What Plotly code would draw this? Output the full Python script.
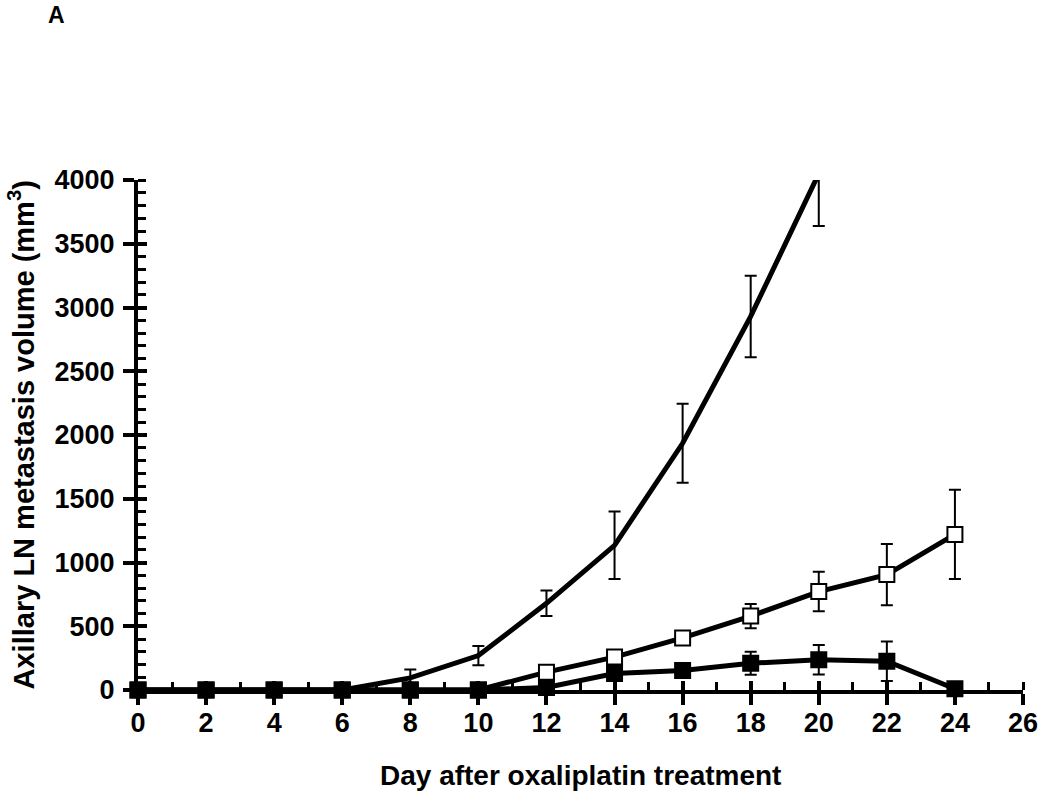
import plotly.graph_objects as go

days = [0, 2, 4, 6, 8, 10, 12, 14, 16, 18, 20, 22, 24]
days_s1 = [0, 2, 4, 6, 8, 10, 12, 14, 16, 18, 20]

s1_vals = [0, 0, 0, 0, 95, 270, 680, 1135, 1935, 2930, 4050]
s1_err = [0, 0, 0, 0, 65, 75, 100, 265, 310, 320, 410]

s2_vals = [0, 0, 0, 0, 0, 0, 140, 258, 408, 580, 772, 905, 1220]
s2_err = [0, 0, 0, 0, 0, 0, 15, 25, 30, 95, 155, 240, 350]

s3_vals = [0, 0, 0, 0, 0, 0, 20, 130, 153, 210, 237, 226, 10]
s3_err = [0, 0, 0, 0, 0, 0, 0, 30, 25, 90, 115, 155, 0]

x_ticks = list(range(0, 27, 2))
y_ticks = list(range(0, 4001, 500))

FONT = "Liberation Sans, Arial, sans-serif"
W, H = 1050, 791
ML, MR, MT, MB = 138, 16, 180, 101

fig = go.Figure()

err_style = dict(type="data", visible=True, thickness=2, width=6, color="black")

fig.add_trace(go.Scatter(
    x=days_s1, y=s1_vals, mode="lines",
    line=dict(color="black", width=5),
    error_y=dict(array=s1_err, **err_style),
    cliponaxis=False, showlegend=False))

fig.add_trace(go.Scatter(
    x=days, y=s2_vals, mode="lines+markers",
    line=dict(color="black", width=5),
    marker=dict(symbol="square", size=15, color="white",
                line=dict(color="black", width=2)),
    error_y=dict(array=s2_err, **err_style),
    cliponaxis=False, showlegend=False))

fig.add_trace(go.Scatter(
    x=days, y=s3_vals, mode="lines+markers",
    line=dict(color="black", width=5),
    marker=dict(symbol="square", size=15, color="black",
                line=dict(color="black", width=2)),
    error_y=dict(array=s3_err, **err_style),
    cliponaxis=False, showlegend=False))

# invisible trace to host the overlay axes (inner halves of major ticks)
fig.add_trace(go.Scatter(x=[None], y=[None], xaxis="x2", yaxis="y2",
                         showlegend=False, hoverinfo="skip"))

tick_font = dict(family=FONT, size=27, color="black")

fig.update_layout(
    width=W, height=H,
    margin=dict(l=ML, r=MR, t=MT, b=MB, pad=0),
    plot_bgcolor="white", paper_bgcolor="white",
    font=dict(family=FONT, color="black"),
    xaxis=dict(
        range=[0, 26], tickvals=x_ticks, ticktext=[f"<b>{v}</b>" for v in x_ticks],
        showgrid=False, zeroline=False,
        showline=True, linecolor="black", linewidth=4,
        ticks="outside", ticklen=11, tickwidth=4, tickcolor="black",
        ticklabelstandoff=-5,
        minor=dict(dtick=1, ticks="inside", ticklen=8, tickwidth=3,
                   tickcolor="black", showgrid=False),
        tickfont=tick_font, fixedrange=True,
    ),
    yaxis=dict(
        range=[0, 4000], tickvals=y_ticks, ticktext=[f"<b>{v}</b>" for v in y_ticks],
        showgrid=False, zeroline=False,
        showline=True, linecolor="black", linewidth=4,
        ticks="outside", ticklen=11, tickwidth=4, tickcolor="black",
        ticklabelstandoff=3,
        minor=dict(dtick=100, ticks="inside", ticklen=8, tickwidth=3,
                   tickcolor="black", showgrid=False),
        tickfont=tick_font, fixedrange=True,
    ),
    xaxis2=dict(
        overlaying="x", anchor="y2", side="bottom", range=[0, 26],
        tickvals=x_ticks, showticklabels=False, showgrid=False, zeroline=False,
        showline=False, ticks="inside", ticklen=9, tickwidth=4, tickcolor="black",
    ),
    yaxis2=dict(
        overlaying="y", anchor="x2", side="left", range=[0, 4000],
        tickvals=y_ticks, showticklabels=False, showgrid=False, zeroline=False,
        showline=False, ticks="inside", ticklen=9, tickwidth=4, tickcolor="black",
    ),
    annotations=[
        dict(text="<b>Day after oxaliplatin treatment</b>", xref="paper", yref="paper",
             x=0.5, y=-(775 - (H - MB)) / (H - MT - MB), xanchor="center", yanchor="middle",
             showarrow=False, font=dict(family=FONT, size=28, color="black")),
        dict(text="<b>Axillary LN metastasis volume (mm<sup>3</sup>)</b>", xref="paper", yref="paper",
             x=-(ML - 20) / (W - ML - MR), y=0.5, xanchor="center", yanchor="middle",
             textangle=-90, showarrow=False,
             font=dict(family=FONT, size=29, color="black")),
        dict(text="<b>A</b>", xref="paper", yref="paper",
             x=-(ML - 55) / (W - ML - MR), y=1 + (MT - 0) / (H - MT - MB),
             xanchor="center", yanchor="top", showarrow=False,
             font=dict(family=FONT, size=23, color="black")),
    ],
)

fig.write_html("out.html", config={"displayModeBar": False},
               post_script="document.body.style.margin='0';document.body.style.overflow='hidden';")
